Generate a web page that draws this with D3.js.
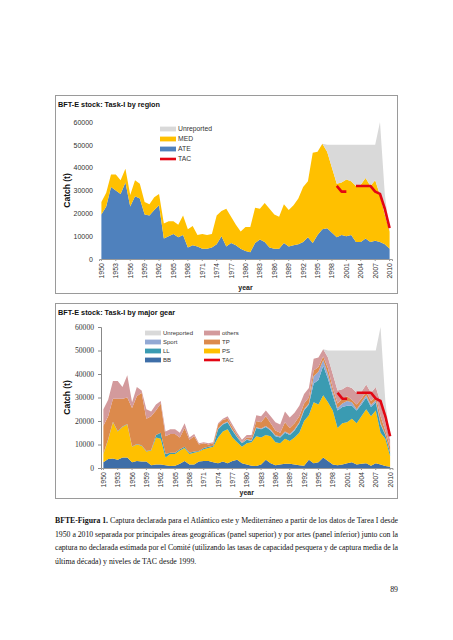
<!DOCTYPE html>
<html><head><meta charset="utf-8">
<script src="https://cdn.jsdelivr.net/npm/d3@7"></script>
<style>body{margin:0;background:#fff}svg{display:block}</style>
</head><body>
<script>
const years = d3.range(1950, 2011);
const tickYears = d3.range(1950, 2011, 3);
const yTicks = [0, 10000, 20000, 30000, 40000, 50000, 60000];

// Panel 1: by region
const ATE = [19500,23000,31500,30000,28500,33500,23000,27500,26500,19500,19000,21500,23500,9000,10000,11000,9500,10500,5000,6000,5500,4500,4500,5000,6500,10000,5500,7000,6000,4500,3500,3000,7000,8500,7500,5000,4500,4500,7000,5500,6000,6500,7500,9500,7000,10500,13000,13500,11500,9500,10500,10000,10500,7500,7500,9000,7500,8000,7500,6500,4500];
const MED = [5500,6000,5500,7000,6000,6000,5000,7000,6500,5500,5000,5500,5000,6500,6500,5500,5500,8500,8000,8500,5000,6500,6000,6000,12500,11000,16500,11500,9000,7500,10500,11000,15500,13500,17000,17000,15000,14000,17000,16000,17500,20000,24000,24500,39500,36500,37500,33500,28500,23500,23000,24800,23500,24500,25000,26500,24500,26500,20500,13000,7500];
const UNREP = [0,0,0,0,0,0,0,0,0,0,0,0,0,0,0,0,0,0,0,0,0,0,0,0,0,0,0,0,0,0,0,0,0,0,0,0,0,0,0,0,0,0,0,0,0,0,0,3000,10000,17000,16500,15200,16000,18000,17500,14500,18000,15500,32000,9000,0];
const TAC = [null,null,null,null,null,null,null,null,null,null,null,null,null,null,null,null,null,null,null,null,null,null,null,null,null,null,null,null,null,null,null,null,null,null,null,null,null,null,null,null,null,null,null,null,null,null,null,null,null,32000,29500,29500,null,32000,32000,32000,32000,29500,28500,22000,13500];

// Panel 2: by major gear
const BB = [2500,3800,4000,3500,4500,4500,2500,3000,2800,2800,1200,1500,1500,1200,800,1000,1800,3000,1500,1500,2800,3000,3000,2500,2000,2800,2000,3000,3500,2000,1500,1000,800,1500,3500,2000,1200,1500,1800,1800,1500,1200,1000,3500,2000,2500,4500,3000,1500,1200,1500,2000,2500,1500,1800,2000,1000,2000,1500,800,500];
const PS = [3500,8200,15500,12000,13000,14000,6500,7000,6700,4200,6300,11500,11000,3300,5200,5000,5700,5500,4500,5000,4200,5000,5500,6500,11000,12700,14500,10000,7500,7000,9000,10000,12700,11500,10500,11500,9800,9000,10700,9700,11500,13800,19000,19000,26000,24500,26500,25000,23000,15800,17500,17500,18500,17500,20200,23000,21000,22500,13500,11700,4500];
const LL = [200,200,200,200,200,200,200,200,200,200,200,1000,2500,1500,500,500,500,500,500,500,200,500,500,500,3500,3000,3000,3000,2000,1500,1500,500,3500,3500,3500,2500,2500,2500,2500,2500,3000,4000,4500,4500,8000,10500,12500,10000,6500,7500,7000,7000,5500,5500,5000,5000,4000,3500,3500,1500,1500];
const SPORT = [0,0,0,0,0,0,0,0,0,0,0,0,0,0,0,0,0,0,0,0,0,0,0,0,300,300,300,300,300,200,300,300,300,300,400,400,400,400,500,500,500,500,500,500,3000,3500,2500,2000,1500,1000,1500,2000,1500,500,1000,1000,800,800,500,300,200];
const TP = [11800,9800,9800,13800,11800,11300,16300,20300,22300,13800,14300,10500,12500,7500,8000,8000,5000,8000,5500,6500,2800,2000,1000,1000,1700,1700,1200,1200,700,300,700,1200,2700,2700,4100,2600,2100,1600,4000,2500,2500,2500,2500,2500,2500,2000,1500,2500,1500,2000,2000,2000,1000,2000,1500,1500,1700,1700,3000,1700,2300];
const OTHERS = [7000,7000,7500,7500,5000,9500,2500,4000,1000,4000,2000,2500,1000,2000,2000,2000,2000,2000,1000,1000,500,500,500,500,500,500,1000,1000,1000,1000,1000,1000,2500,2500,2500,3000,3500,3500,4500,4500,4500,4500,4000,4000,5000,4000,3000,4500,6000,5500,4000,4300,5000,5000,3000,3000,3500,4000,6000,3500,3000];

const captionLines = [
  "Captura declarada para el Atlántico este y Mediterráneo a partir de los datos de Tarea I desde",
  "1950 a 2010 separada por principales áreas geográficas (panel superior) y por artes (panel inferior) junto con la",
  "captura no declarada estimada por el Comité (utilizando las tasas de capacidad pesquera y de captura media de la",
  "última década) y niveles de TAC desde 1999."
];

const W = 453, H = 640;
const SANS = "Liberation Sans, Arial, sans-serif";
const SERIF = "Liberation Serif, Times New Roman, serif";
const svg = d3.select("body").append("svg").attr("width", W).attr("height", H);

function panel(cfg) {
  const g = svg.append("g");
  g.append("rect").attr("x", cfg.box[0] + 0.5).attr("y", cfg.box[1] + 0.5)
    .attr("width", cfg.box[2] - cfg.box[0]).attr("height", cfg.box[3] - cfg.box[1])
    .attr("fill", "#fff").attr("stroke", "#9a9a9a").attr("stroke-width", 1);
  g.append("text").attr("x", cfg.box[0] + 3).attr("y", cfg.box[1] + 12)
    .attr("font-family", SANS).attr("font-weight", "bold")
    .attr("font-size", 7.3).attr("fill", "#111").text(cfg.title);

  const x = d3.scaleBand().domain(years).range([cfg.x0, cfg.x1]);
  const y = d3.scaleLinear().domain([0, 60000]).range([cfg.y0, cfg.y1]);
  const cx = d => x(d) + x.bandwidth() / 2;

  const rows = years.map((yr, i) => {
    const o = { year: yr };
    cfg.series.forEach(s => o[s.key] = s.values[i]);
    return o;
  });
  const stack = d3.stack().keys(cfg.series.map(s => s.key));
  const layers = stack(rows);
  const area = d3.area().x(d => cx(d.data.year)).y0(d => y(d[0])).y1(d => y(d[1]));
  g.selectAll("path.layer").data(layers).join("path").attr("class", "layer")
    .attr("d", area).attr("fill", (d, i) => cfg.series[i].color);

  // TAC line
  const line = d3.line().defined(d => d.v != null).x(d => cx(d.year)).y(d => y(d.v));
  g.append("path").datum(years.map((yr, i) => ({ year: yr, v: TAC[i] })))
    .attr("d", line).attr("fill", "none").attr("stroke", "#e30613").attr("stroke-width", 2.6)
    .attr("stroke-linejoin", "round");

  // axes
  const yAxis = d3.axisLeft(y).tickValues(yTicks).tickFormat(d3.format("d"))
    .tickSize(cfg.yTick).tickPadding(cfg.yPad);
  const ya = g.append("g").attr("transform", `translate(${cfg.x0},0)`).call(yAxis);
  ya.select(".domain").attr("stroke", cfg.yLine ? "#888" : "none");
  ya.selectAll(".tick line").attr("stroke", "#888");
  ya.selectAll("text").attr("font-family", cfg.yFont).attr("font-size", cfg.yFontSize).attr("fill", "#333");

  const xAxis = d3.axisBottom(x).tickValues(tickYears).tickSize(2).tickPadding(2);
  const xa = g.append("g").attr("transform", `translate(0,${cfg.y0})`).call(xAxis);
  xa.select(".domain").attr("stroke", "#999");
  xa.selectAll(".tick line").attr("stroke", "#999");
  xa.selectAll("text").attr("font-family", SANS)
    .attr("font-size", 7).attr("fill", "#333")
    .attr("text-anchor", "end").attr("x", 0).attr("y", 0)
    .attr("dx", 0).attr("dy", "0.35em")
    .attr("transform", "translate(0,4) rotate(-90)");

  g.append("text").attr("x", (cfg.x0 + cfg.x1) / 2).attr("y", cfg.xLabelY)
    .attr("text-anchor", "middle").attr("font-family", SANS)
    .attr("font-weight", "bold").attr("font-size", 7).attr("fill", "#222").text("year");
  g.append("text").attr("transform", `translate(${cfg.box[0] + 12},${(cfg.y0 + cfg.y1) / 2}) rotate(-90)`)
    .attr("text-anchor", "middle").attr("dy", "0.35em").attr("font-family", SANS)
    .attr("font-weight", "bold").attr("font-size", 8.5).attr("fill", "#111").text("Catch (t)");

  // legend
  cfg.legend.forEach(it => {
    const isLine = it.key === "TAC";
    g.append("rect").attr("x", it.x).attr("y", it.y - (isLine ? 1.3 : 2.4))
      .attr("width", 16).attr("height", isLine ? 2.6 : 4.8).attr("fill", it.color);
    g.append("text").attr("x", it.x + 18).attr("y", it.y).attr("dy", "0.35em")
      .attr("font-family", SANS).attr("font-size", cfg.legendFont)
      .attr("fill", "#333").text(it.key);
  });
}

const cUnrep = "#d9d9d9";
panel({
  box: [55, 95, 397, 293],
  title: "BFT-E stock: Task-I by region",
  x0: 99, x1: 392, y0: 259, y1: 122,
  yTick: 0, yPad: 6, yLine: false, yFont: SANS, yFontSize: 7,
  xLabelY: 290, legendFont: 6.8,
  series: [
    { key: "ATE", values: ATE, color: "#4f81bd" },
    { key: "MED", values: MED, color: "#ffc000" },
    { key: "Unreported", values: UNREP, color: cUnrep }
  ],
  legend: [
    { key: "Unreported", color: cUnrep, x: 160, y: 129 },
    { key: "MED", color: "#ffc000", x: 160, y: 139 },
    { key: "ATE", color: "#4f81bd", x: 160, y: 149 },
    { key: "TAC", color: "#e30613", x: 160, y: 159 }
  ]
});

panel({
  box: [55, 303, 397, 498],
  title: "BFT-E stock: Task-I by major gear",
  x0: 101, x1: 392.5, y0: 468, y1: 327,
  yTick: 3, yPad: 4, yLine: true, yFont: SERIF, yFontSize: 7.6,
  xLabelY: 495, legendFont: 6,
  series: [
    { key: "BB", values: BB, color: "#3e6ea8" },
    { key: "PS", values: PS, color: "#ffc000" },
    { key: "LL", values: LL, color: "#3a9bb2" },
    { key: "Sport", values: SPORT, color: "#93a9d4" },
    { key: "TP", values: TP, color: "#dc8a4c" },
    { key: "others", values: OTHERS, color: "#d39a9c" },
    { key: "Unreported", values: UNREP, color: cUnrep }
  ],
  legend: [
    { key: "Unreported", color: cUnrep, x: 145, y: 333 },
    { key: "Sport", color: "#93a9d4", x: 145, y: 342 },
    { key: "LL", color: "#3a9bb2", x: 145, y: 351 },
    { key: "BB", color: "#3e6ea8", x: 145, y: 360 },
    { key: "others", color: "#d39a9c", x: 204, y: 333 },
    { key: "TP", color: "#dc8a4c", x: 204, y: 342 },
    { key: "PS", color: "#ffc000", x: 204, y: 351 },
    { key: "TAC", color: "#e30613", x: 204, y: 360 }
  ]
});

// caption
const cap = svg.append("g").attr("font-family", SERIF)
  .attr("font-size", 7.8).attr("fill", "#111");
const t0 = cap.append("text").attr("x", 55).attr("y", 523).attr("textLength", 343).attr("lengthAdjust", "spacing");
t0.append("tspan").attr("font-weight", "bold").text("BFTE-Figura 1. ");
t0.append("tspan").text(captionLines[0]);
captionLines.slice(1).forEach((l, i) => {
  const t = cap.append("text").attr("x", 55).attr("y", 523 + (i + 1) * 13.5).text(l);
  if (i < 2) t.attr("textLength", 343).attr("lengthAdjust", "spacing");
});
svg.append("text").attr("x", 398).attr("y", 592).attr("text-anchor", "end")
  .attr("font-family", SERIF).attr("font-size", 7.8)
  .attr("fill", "#111").text("89");
</script>
</body></html>
